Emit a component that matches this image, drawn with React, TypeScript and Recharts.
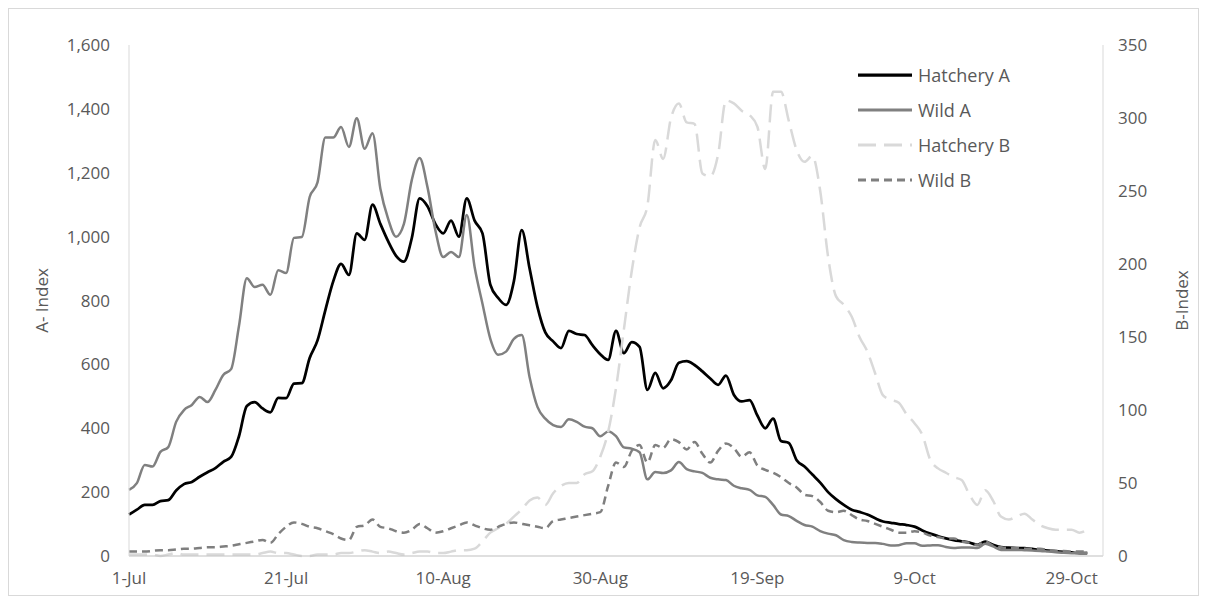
import { Legend, Line, LineChart, XAxis, YAxis } from "recharts";

// day 0 = 1-Jul
const tickDays = [0, 20, 40, 60, 80, 100, 120];
const tickLabels = ["1-Jul", "21-Jul", "10-Aug", "30-Aug", "19-Sep", "9-Oct", "29-Oct"];
const leftTicks = [0, 200, 400, 600, 800, 1000, 1200, 1400, 1600];
const rightTicks = [0, 50, 100, 150, 200, 250, 300, 350];

// A-Index (left axis)
const hatcheryA = [
    130, 145, 160, 160, 172, 175, 205, 225, 232, 248,
    262, 275, 295, 310, 375, 470, 482, 462, 450, 495,
    494, 540, 541, 620, 675, 770, 860, 915, 880, 1010,
    990, 1100, 1040, 985, 940, 922, 995, 1120, 1095, 1040,
    1010, 1050, 1000, 1120, 1050, 1010, 850, 808, 786, 860,
    1020, 900, 780, 700, 672, 651, 705, 695, 692, 660,
    632, 614, 705, 635, 670, 655, 520, 573, 525, 550,
    605, 610, 598, 578, 556, 536, 565, 505, 484, 488,
    440, 400, 430, 360, 354, 300, 280, 255, 230, 200,
    178, 160, 145, 138, 130, 118, 108, 104, 100, 97,
    92, 80, 70, 62, 55, 50, 46, 42, 35, 45,
    35, 28, 26, 25, 25, 22, 19, 17, 15, 13,
    11, 9, 9,
];

const wildA = [
    207, 228, 285, 280, 326, 341, 420, 457, 473, 498,
    482, 520, 567, 585, 720, 870, 842, 849, 818, 895,
    886, 996, 999, 1124, 1170, 1310, 1310, 1343, 1281, 1371,
    1275, 1324, 1150, 1055, 1000, 1040, 1177, 1246, 1155, 1020,
    936, 952, 936, 1068, 905, 790, 680, 630, 640, 680,
    692, 560, 467, 430, 410, 404, 428, 420, 405, 400,
    375, 390, 375, 340, 336, 325, 240, 263, 260, 268,
    294, 272, 265, 260, 245, 240, 238, 220, 212, 207,
    190, 185, 160, 130, 125, 110, 97, 92, 78, 70,
    65, 50, 44, 42, 41, 41, 38, 33, 34, 40,
    40, 32, 33, 34, 28, 25, 27, 27, 25, 38,
    30, 19, 19, 19, 18, 17, 16, 14, 12, 10,
    9, 9, 10,
];

// B-Index (right axis)
const hatcheryB = [
    1, 1, 1, 1, 0, 1, 2, 1, 1, 1,
    1, 1, 1, 1, 1, 1, 1, 2, 3, 2,
    2, 1, 0, 0, 1, 1, 1, 2, 2, 3,
    4, 3, 2, 3, 2, 1, 2, 3, 3, 2,
    2, 3, 4, 4, 5, 10, 16, 19, 22, 27,
    32, 38, 40, 35, 43, 48, 50, 50, 56, 58,
    68, 85, 115, 155, 195, 225, 240, 285, 272, 300,
    310, 297, 296, 262, 260, 275, 312, 310, 305, 302,
    294, 265, 318, 318, 298, 278, 270, 274, 250, 205,
    178, 172, 164, 150, 140, 125, 110, 107, 105, 97,
    91, 83, 66, 60, 57, 54, 52, 42, 35, 45,
    38, 27, 25, 27, 29, 25, 21, 19, 18, 18,
    18, 16, 18,
];

const wildB = [
    3, 3, 3, 3.5, 4, 4, 4.5, 5, 5, 5.5,
    6, 6, 6.5, 7, 8, 9, 10, 11, 9, 15,
    20, 23, 22, 20, 19, 17, 15, 12, 11, 20,
    21, 25, 20, 19, 17, 16, 18, 22, 19, 16,
    17, 19, 21, 23, 21, 19, 18, 20, 22, 23,
    22, 21, 20, 19, 24, 25, 26, 27, 28, 29,
    30, 48, 64, 61, 72, 76, 64, 76, 74, 80,
    78, 73, 78, 70, 64, 72, 77, 74, 68, 71,
    62, 59, 57, 54, 50, 47, 42, 41, 37, 31,
    30, 31, 28, 25, 24, 22, 20, 18, 16, 16,
    17, 16, 14, 13, 12, 12, 10, 9, 7.5, 10,
    7, 6, 5.5, 5.5, 5, 5, 5, 4, 3.5, 3.5,
    3, 3, 3,
];

const data = hatcheryA.map((v, i) => ({
    day: i,
    hatcheryA: v,
    wildA: wildA[i],
    hatcheryB: hatcheryB[i],
    wildB: wildB[i],
}));

const series = [
    { key: "hatcheryA", name: "Hatchery A", color: "#000000", width: 2.75, dash: undefined, axis: "a" },
    { key: "wildA", name: "Wild A", color: "#808080", width: 2.5, dash: undefined, axis: "a" },
    { key: "hatcheryB", name: "Hatchery B", color: "#d9d9d9", width: 2.5, dash: "18 8", axis: "b" },
    { key: "wildB", name: "Wild B", color: "#7f7f7f", width: 2.5, dash: "8 5", axis: "b" },
];

const textColor = "#595959";
const fontSize = 17;

const renderLegend = () => (
    <div style={{ display: "flex", flexDirection: "column" }}>
        {series.map((s) => (
            <div key={s.key} style={{ display: "flex", alignItems: "center", height: 35 }}>
                <svg width={56} height={10}>
                    <line x1={0} y1={5} x2={54} y2={5} stroke={s.color} strokeWidth={s.width + 0.5} strokeDasharray={s.dash} />
                </svg>
                <span style={{ marginLeft: 4, color: textColor, fontSize: 18 }}>{s.name}</span>
            </div>
        ))}
    </div>
);

const App = () => {
    return (
        <div style={{ width: 1189, height: 586, border: "1px solid #d9d9d9", fontFamily: "'Open Sans', sans-serif", background: "#fff" }}>
            <LineChart width={1189} height={586} data={data} margin={{ top: 36, right: 0, bottom: 9, left: 0 }}>
                <XAxis
                    dataKey="day"
                    type="number"
                    domain={[0, 124]}
                    ticks={tickDays}
                    tickFormatter={(d: number) => tickLabels[tickDays.indexOf(d)]}
                    height={30}
                    stroke="#bfbfbf"
                    tickLine={false}
                    tickMargin={10}
                    tick={{ fill: textColor, fontSize }}
                />
                <YAxis
                    yAxisId="a"
                    domain={[0, 1600]}
                    ticks={leftTicks}
                    tickFormatter={(v: number) => v.toLocaleString("en-US")}
                    width={120}
                    stroke="#d9d9d9"
                    tickLine={false}
                    tickMargin={13}
                    tick={{ fill: textColor, fontSize }}
                    label={{ value: "A- Index", angle: -90, position: "insideLeft", offset: 33, fill: textColor, fontSize, style: { textAnchor: "middle" } }}
                />
                <YAxis
                    yAxisId="b"
                    orientation="right"
                    domain={[0, 350]}
                    ticks={rightTicks}
                    width={95}
                    stroke="#d9d9d9"
                    tickLine={false}
                    tickMargin={9}
                    tick={{ fill: textColor, fontSize }}
                    label={{ value: "B-Index", angle: -90, position: "insideRight", offset: 16, fill: textColor, fontSize, style: { textAnchor: "middle" } }}
                />
                <Legend
                    layout="horizontal"
                    align="center"
                    verticalAlign="middle"
                    content={renderLegend}
                    wrapperStyle={{ left: 849, top: 48, width: 260 }}
                />
                {series.map((s) => (
                    <Line
                        key={s.key}
                        yAxisId={s.axis}
                        type="monotone"
                        dataKey={s.key}
                        name={s.name}
                        stroke={s.color}
                        strokeWidth={s.width}
                        strokeDasharray={s.dash}
                        dot={false}
                        activeDot={false}
                        isAnimationActive={false}
                    />
                ))}
            </LineChart>
        </div>
    );
};

export default App;
